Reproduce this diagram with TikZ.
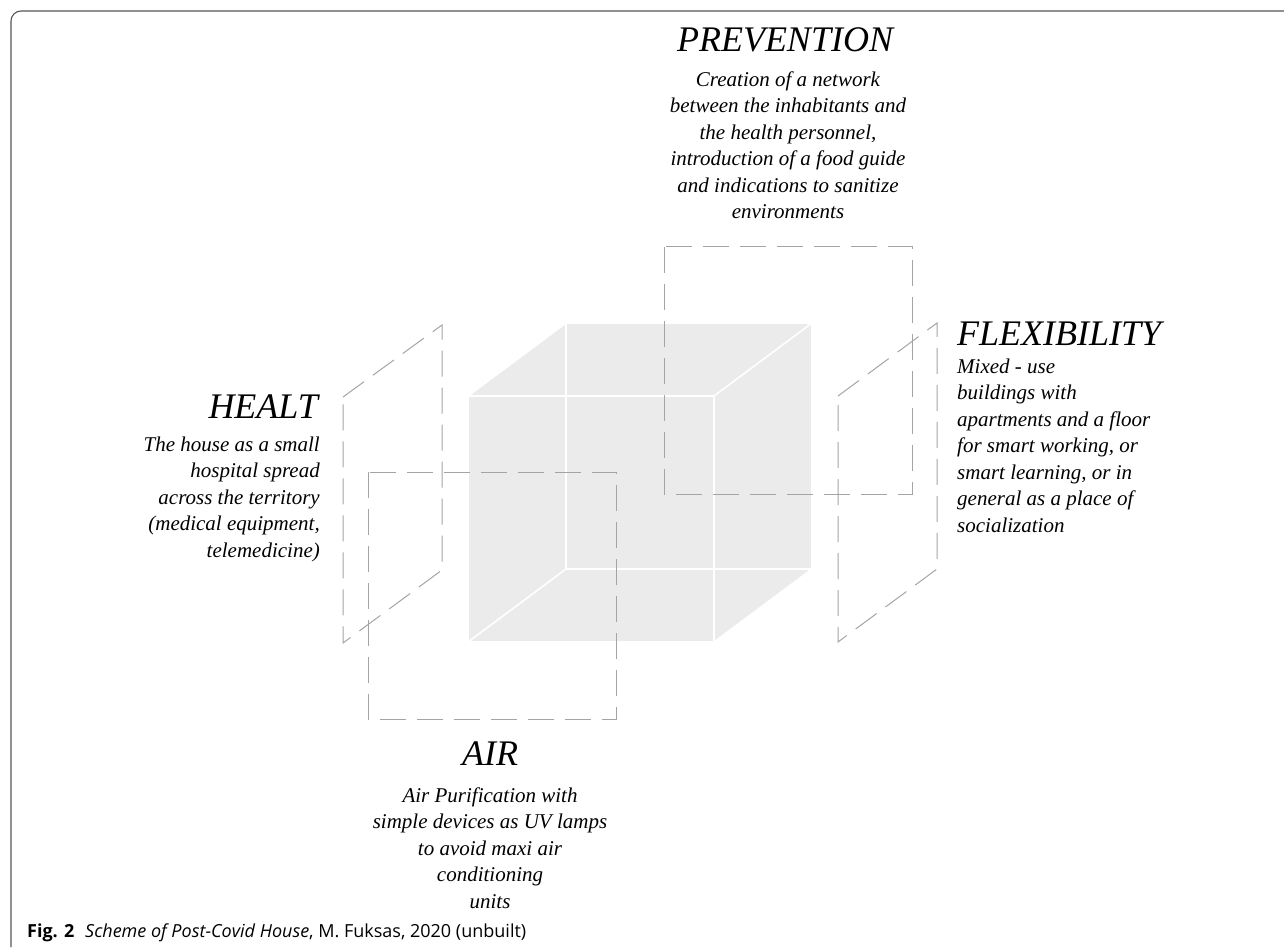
\documentclass[tikz,border=0pt]{standalone}
\usepackage{fontspec}
\setmainfont{Liberation Serif}
\newfontfamily\capfont{Open Sans}
\definecolor{cubefill}{HTML}{EBEBEB}
\definecolor{dashgray}{HTML}{A4A4A4}
\definecolor{framegray}{HTML}{555555}
\begin{document}
\begin{tikzpicture}[x=1pt,y=-1pt,
  cubeface/.style={fill=cubefill,draw=none},
  cubeedge/.style={draw=white,line width=1.6pt},
  panel/.style={draw=dashgray,line width=1pt,dash pattern=on 26pt off 11pt},
  title/.style={font=\fontsize{36}{40}\selectfont\itshape,inner sep=0pt},
  body/.style={font=\fontsize{21}{26.5}\selectfont\itshape,inner sep=0pt},
  caption/.style={font=\capfont\fontsize{18}{21}\selectfont,inner sep=0pt}]
\useasboundingbox (0,0) rectangle (1284,949);
% frame
\draw[framegray,line width=1.1pt,rounded corners=10pt] (11,947) -- (11,11) -- (1284,11);
% cube
\coordinate (f1) at (468,642);
\coordinate (f2) at (468,396);
\coordinate (f3) at (714,396);
\coordinate (f4) at (714,642);
\coordinate (b1) at (566,569);
\coordinate (b2) at (566,323);
\coordinate (b3) at (812,323);
\coordinate (b4) at (812,569);
\fill[cubeface] (f1) -- (f2) -- (b2) -- (b3) -- (b4) -- (f4) -- cycle;
\draw[cubeedge] (f1) -- (f2) -- (f3) -- (f4) -- cycle;
\draw[cubeedge] (b1) -- (b2) -- (b3) -- (b4) -- cycle;
\draw[cubeedge] (f1) -- (b1) (f2) -- (b2) (f3) -- (b3) (f4) -- (b4);
% dashed panels
\draw[panel] (343,397) -- (442,325) -- (442,570) -- (343,643) -- cycle;
\draw[panel] (838,396) -- (937,323) -- (937,569) -- (838,642) -- cycle;
\draw[panel] (368,472) rectangle (616,719);
\draw[panel] (664,247) rectangle (912,494);
% texts (base anchor of a multi-line node = baseline of its last line)
\node[title,anchor=base] (prevT) at (785,52) {PREVENTION};
\node[body,anchor=base,align=center] (prevB) at (788,219) {Creation of a network\\between the inhabitants and\\the health personnel,\\introduction of a food guide\\and indications to sanitize\\environments};
\node[title,anchor=base east] (healT) at (318,418) {HEALT};
\node[body,anchor=base east,align=right] (healB) at (320,557) {The house as a small\\hospital spread\\across the territory\\(medical equipment,\\telemedicine)};
\node[title,anchor=base] (airT) at (490,765) {AIR};
\node[body,anchor=base,align=center] (airB) at (490,908) {Air Purification with\\simple devices as UV lamps\\to avoid maxi air\\conditioning\\units};
\node[title,anchor=base west] (flexT) at (957,345) {FLEXIBILITY};
\node[body,anchor=base west,align=left] (flexB) at (957,532) {Mixed - use\\buildings with\\apartments and a floor\\for smart working, or\\smart learning, or in\\general as a place of\\socialization};
\node[caption,anchor=base west] (cap) at (27,937) {\textbf{Fig. 2}\hspace{0.6em}\textit{Scheme of Post-Covid House}, M. Fuksas, 2020 (unbuilt)};
\end{tikzpicture}
\end{document}
